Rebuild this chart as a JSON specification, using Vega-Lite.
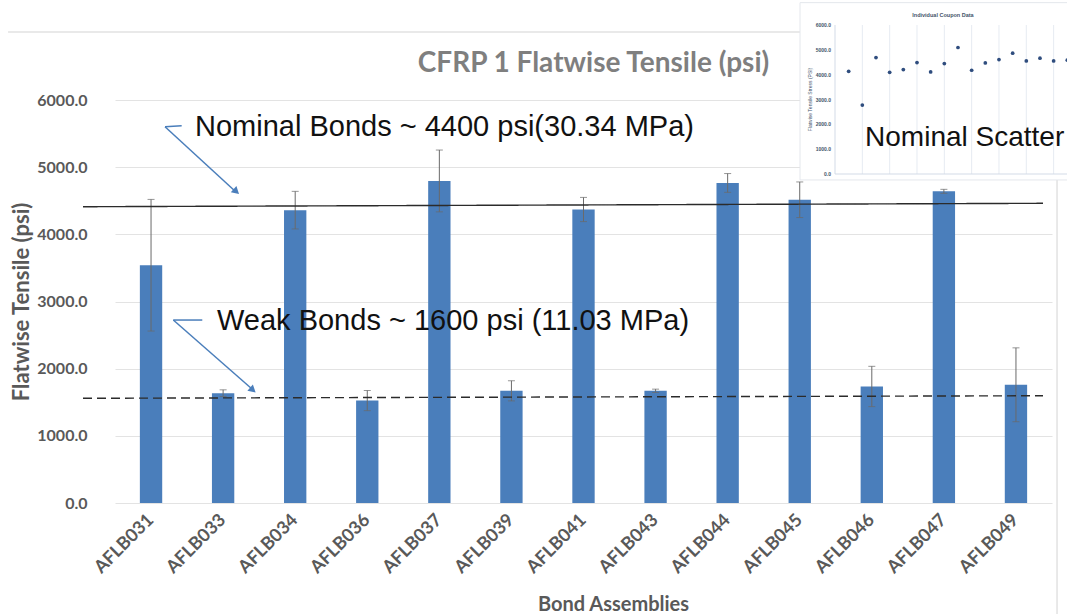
{
  "$schema": "https://vega.github.io/schema/vega-lite/v6.json",
  "autosize": {"type": "none"},
  "padding": {"left": 115, "top": 100, "right": 15, "bottom": 111},
  "width": 937,
  "height": 403,
  "background": "white",
  "config": {"view": {"stroke": null}},
  "title": {
    "text": "CFRP 1 Flatwise Tensile (psi)",
    "font": "Lato",
    "fontSize": 28,
    "fontWeight": "bold",
    "color": "#7f7f7f",
    "anchor": "middle",
    "dx": 10,
    "offset": -76
  },
  "datasets": {
    "bars": [
      {"assembly": "AFLB031", "mean": 3540, "err": 980},
      {"assembly": "AFLB033", "mean": 1635, "err": 50},
      {"assembly": "AFLB034", "mean": 4360, "err": 280},
      {"assembly": "AFLB036", "mean": 1525, "err": 150},
      {"assembly": "AFLB037", "mean": 4795, "err": 460},
      {"assembly": "AFLB039", "mean": 1670, "err": 150},
      {"assembly": "AFLB041", "mean": 4370, "err": 180},
      {"assembly": "AFLB043", "mean": 1670, "err": 25},
      {"assembly": "AFLB044", "mean": 4765, "err": 140},
      {"assembly": "AFLB045", "mean": 4515, "err": 265},
      {"assembly": "AFLB046", "mean": 1735, "err": 300},
      {"assembly": "AFLB047", "mean": 4640, "err": 30},
      {"assembly": "AFLB049", "mean": 1760, "err": 550}
    ],
    "refs": [
      {"kind": "Nominal", "x1": -0.444, "y1": 4411, "x2": 12.875, "y2": 4462},
      {"kind": "Weak", "x1": -0.444, "y1": 1559, "x2": 12.875, "y2": 1597}
    ],
    "frame": [
      {"x1": -1.484, "y1": 7012, "x2": 12.9, "y2": 7012},
      {"x1": 13.07, "y1": 7012, "x2": 13.07, "y2": -1700}
    ],
    "arrows": [
      {"x1": 0.694, "y1": 5602, "x2": 0.925, "y2": 5617},
      {"x1": 0.694, "y1": 5602, "x2": 1.679, "y2": 4630},
      {"x1": 0.809, "y1": 2724, "x2": 1.211, "y2": 2724},
      {"x1": 0.809, "y1": 2724, "x2": 1.901, "y2": 1697}
    ],
    "heads": [
      {"x": 1.683, "y": 4636, "angle": 132},
      {"x": 1.913, "y": 1682, "angle": 131}
    ],
    "notes": [
      {"x": 1.11, "y": 5598, "label": "Nominal Bonds ~ 4400 psi(30.34 MPa)", "size": 29},
      {"x": 1.415, "y": 2710, "label": "Weak Bonds ~ 1600 psi (11.03 MPa)", "size": 29}
    ],
    "coupons": [
      {"coupon": 1, "stress": 4137},
      {"coupon": 2, "stress": 2776},
      {"coupon": 3, "stress": 4690},
      {"coupon": 4, "stress": 4097},
      {"coupon": 5, "stress": 4205},
      {"coupon": 6, "stress": 4488},
      {"coupon": 7, "stress": 4110},
      {"coupon": 8, "stress": 4447},
      {"coupon": 9, "stress": 5094},
      {"coupon": 10, "stress": 4178},
      {"coupon": 11, "stress": 4474},
      {"coupon": 12, "stress": 4609},
      {"coupon": 13, "stress": 4865},
      {"coupon": 14, "stress": 4555},
      {"coupon": 15, "stress": 4663},
      {"coupon": 16, "stress": 4555},
      {"coupon": 17, "stress": 4582}
    ],
    "insetGrid": [
      {"gx": 2}, {"gx": 4}, {"gx": 6}, {"gx": 8}, {"gx": 10}, {"gx": 12}, {"gx": 14}, {"gx": 16}
    ],
    "insetTicks": [
      {"v": 0, "label": "0.0"},
      {"v": 1000, "label": "1000.0"},
      {"v": 2000, "label": "2000.0"},
      {"v": 3000, "label": "3000.0"},
      {"v": 4000, "label": "4000.0"},
      {"v": 5000, "label": "5000.0"},
      {"v": 6000, "label": "6000.0"}
    ]
  },
  "layer": [
    {
      "resolve": {"scale": {"x": "independent"}},
      "layer": [
        {
          "layer": [
            {
              "data": {"name": "bars"},
              "mark": {"type": "bar", "color": "#4a7ebb"},
              "encoding": {
                "x": {
                  "field": "assembly",
                  "type": "nominal",
                  "sort": null,
                  "scale": {"paddingInner": 0.69, "paddingOuter": 0.345},
                  "axis": {
                    "title": "Bond Assemblies",
                    "titleFont": "Lato",
                    "titleFontSize": 20,
                    "titleFontWeight": "bold",
                    "titleColor": "#595959",
                    "titlePadding": 18,
                    "titleX": 498,
                    "labelFont": "Lato",
                    "labelFontSize": 18,
                    "labelFontWeight": "bold",
                    "labelColor": "#595959",
                    "labelAngle": -45,
                    "labelAlign": "right",
                    "labelBaseline": "middle",
                    "labelPadding": 14,
                    "ticks": false,
                    "domain": false
                  }
                },
                "y": {
                  "field": "mean",
                  "type": "quantitative",
                  "scale": {"domain": [0, 6000], "nice": false},
                  "axis": {
                    "title": "Flatwise Tensile (psi)",
                    "titleFont": "Lato",
                    "titleFontSize": 22,
                    "titleFontWeight": "bold",
                    "titleColor": "#595959",
                    "titlePadding": 3,
                    "values": [0, 1000, 2000, 3000, 4000, 5000, 6000],
                    "format": ".1f",
                    "labelFont": "Lato",
                    "labelFontSize": 16,
                    "labelFontWeight": "bold",
                    "labelColor": "#595959",
                    "labelPadding": 28,
                    "ticks": false,
                    "domain": false,
                    "gridColor": "#e3e3e3",
                    "gridWidth": 1
                  }
                }
              }
            },
            {
              "data": {"name": "bars"},
              "transform": [
                {"calculate": "datum.mean - datum.err", "as": "lo"},
                {"calculate": "datum.mean + datum.err", "as": "hi"}
              ],
              "mark": {"type": "rule", "color": "#6a6a6a", "strokeWidth": 1},
              "encoding": {
                "x": {"field": "assembly", "type": "nominal", "sort": null},
                "y": {"field": "lo", "type": "quantitative"},
                "y2": {"field": "hi"}
              }
            },
            {
              "data": {"name": "bars"},
              "transform": [
                {"calculate": "datum.mean + datum.err", "as": "hi"}
              ],
              "mark": {"type": "tick", "color": "#6a6a6a", "size": 7, "thickness": 1},
              "encoding": {
                "x": {"field": "assembly", "type": "nominal", "sort": null},
                "y": {"field": "hi", "type": "quantitative"}
              }
            },
            {
              "data": {"name": "bars"},
              "transform": [
                {"calculate": "datum.mean - datum.err", "as": "lo"}
              ],
              "mark": {"type": "tick", "color": "#6a6a6a", "size": 7, "thickness": 1},
              "encoding": {
                "x": {"field": "assembly", "type": "nominal", "sort": null},
                "y": {"field": "lo", "type": "quantitative"}
              }
            }
          ]
        },
        {
          "layer": [
            {
              "data": {"name": "frame"},
              "mark": {"type": "rule", "color": "#e2e2e2", "strokeWidth": 1.5},
              "encoding": {
                "x": {"field": "x1", "type": "quantitative", "scale": {"domain": [0, 13], "nice": false, "zero": false}, "axis": null},
                "y": {"field": "y1", "type": "quantitative"},
                "x2": {"field": "x2"},
                "y2": {"field": "y2"}
              }
            },
            {
              "data": {"name": "refs"},
              "mark": {"type": "rule", "color": "#2b2b2b", "strokeWidth": 1.4},
              "encoding": {
                "x": {"field": "x1", "type": "quantitative", "scale": {"domain": [0, 13], "nice": false, "zero": false}, "axis": null},
                "y": {"field": "y1", "type": "quantitative"},
                "x2": {"field": "x2"},
                "y2": {"field": "y2"},
                "strokeDash": {
                  "field": "kind",
                  "type": "nominal",
                  "scale": {"domain": ["Nominal", "Weak"], "range": [[1, 0], [9, 5]]},
                  "legend": null
                }
              }
            },
            {
              "data": {"name": "arrows"},
              "mark": {"type": "rule", "color": "#4a7ebb", "strokeWidth": 1.5},
              "encoding": {
                "x": {"field": "x1", "type": "quantitative", "scale": {"domain": [0, 13], "nice": false, "zero": false}, "axis": null},
                "y": {"field": "y1", "type": "quantitative"},
                "x2": {"field": "x2"},
                "y2": {"field": "y2"}
              }
            },
            {
              "data": {"name": "heads"},
              "mark": {"type": "point", "shape": "triangle-up", "filled": true, "color": "#4a7ebb", "size": 70, "opacity": 1},
              "encoding": {
                "x": {"field": "x", "type": "quantitative", "scale": {"domain": [0, 13], "nice": false, "zero": false}, "axis": null},
                "y": {"field": "y", "type": "quantitative"},
                "angle": {"field": "angle", "type": "quantitative", "scale": null}
              }
            },
            {
              "data": {"name": "notes"},
              "mark": {"type": "text", "align": "left", "baseline": "middle", "font": "Liberation Sans", "color": "#111111"},
              "encoding": {
                "x": {"field": "x", "type": "quantitative", "scale": {"domain": [0, 13], "nice": false, "zero": false}, "axis": null},
                "y": {"field": "y", "type": "quantitative"},
                "text": {"field": "label"},
                "size": {"field": "size", "type": "quantitative", "scale": null}
              }
            }
          ]
        }
      ]
    },
    {
      "layer": [
        {
          "data": {"values": [{"x1": -2.56, "x2": 18, "y1": -240, "y2": 6900}]},
          "mark": {"type": "rect", "fill": "white", "stroke": "#e4e7ec", "strokeWidth": 1},
          "encoding": {
            "x": {"field": "x1", "type": "quantitative", "scale": {"domain": [0, 17], "range": [720, 952.3], "nice": false, "zero": false}, "axis": null},
            "x2": {"field": "x2"},
            "y": {"field": "y1", "type": "quantitative", "scale": {"domain": [0, 6000], "range": [74, -75], "nice": false, "zero": false}, "axis": null},
            "y2": {"field": "y2"}
          }
        },
        {
          "data": {"name": "insetGrid"},
          "mark": {"type": "rule", "color": "#e6ebf2", "strokeWidth": 1},
          "encoding": {
            "x": {"field": "gx", "type": "quantitative"},
            "y": {"datum": 0, "type": "quantitative"},
            "y2": {"datum": 6000}
          }
        },
        {
          "data": {"values": [{"a": 0, "b": 0, "c": 0, "d": 6000}, {"a": 0, "b": 0, "c": 18, "d": 0}]},
          "mark": {"type": "rule", "color": "#d3dbe7", "strokeWidth": 1},
          "encoding": {
            "x": {"field": "a", "type": "quantitative"},
            "y": {"field": "b", "type": "quantitative"},
            "x2": {"field": "c"},
            "y2": {"field": "d"}
          }
        },
        {
          "data": {"name": "insetTicks"},
          "mark": {"type": "text", "align": "right", "baseline": "middle", "fontSize": 5, "fontWeight": "bold", "color": "#44546a", "dx": -4},
          "encoding": {
            "x": {"datum": 0, "type": "quantitative"},
            "y": {"field": "v", "type": "quantitative"},
            "text": {"field": "label"}
          }
        },
        {
          "data": {"values": [{"tx": -1.85, "ty": 3000, "label": "Flatwise Tensile Stress (PSI)"}]},
          "mark": {"type": "text", "angle": 270, "align": "center", "baseline": "middle", "fontSize": 5, "color": "#44546a"},
          "encoding": {
            "x": {"field": "tx", "type": "quantitative"},
            "y": {"field": "ty", "type": "quantitative"},
            "text": {"field": "label"}
          }
        },
        {
          "data": {"values": [{"tx": 7.9, "ty": 6400, "label": "Individual Coupon Data"}]},
          "mark": {"type": "text", "align": "center", "baseline": "middle", "fontSize": 5.5, "fontWeight": "bold", "color": "#44546a"},
          "encoding": {
            "x": {"field": "tx", "type": "quantitative"},
            "y": {"field": "ty", "type": "quantitative"},
            "text": {"field": "label"}
          }
        },
        {
          "data": {"name": "coupons"},
          "mark": {"type": "point", "shape": "circle", "filled": true, "color": "#2f4d7e", "size": 14, "opacity": 1},
          "encoding": {
            "x": {"field": "coupon", "type": "quantitative"},
            "y": {"field": "stress", "type": "quantitative"}
          }
        },
        {
          "data": {"values": [{"tx": 2.2, "ty": 1450, "label": "Nominal Scatter"}]},
          "mark": {"type": "text", "align": "left", "baseline": "middle", "fontSize": 28, "font": "Liberation Sans", "color": "#111111"},
          "encoding": {
            "x": {"field": "tx", "type": "quantitative"},
            "y": {"field": "ty", "type": "quantitative"},
            "text": {"field": "label"}
          }
        }
      ]
    }
  ],
  "resolve": {"scale": {"x": "independent", "y": "independent"}}
}
